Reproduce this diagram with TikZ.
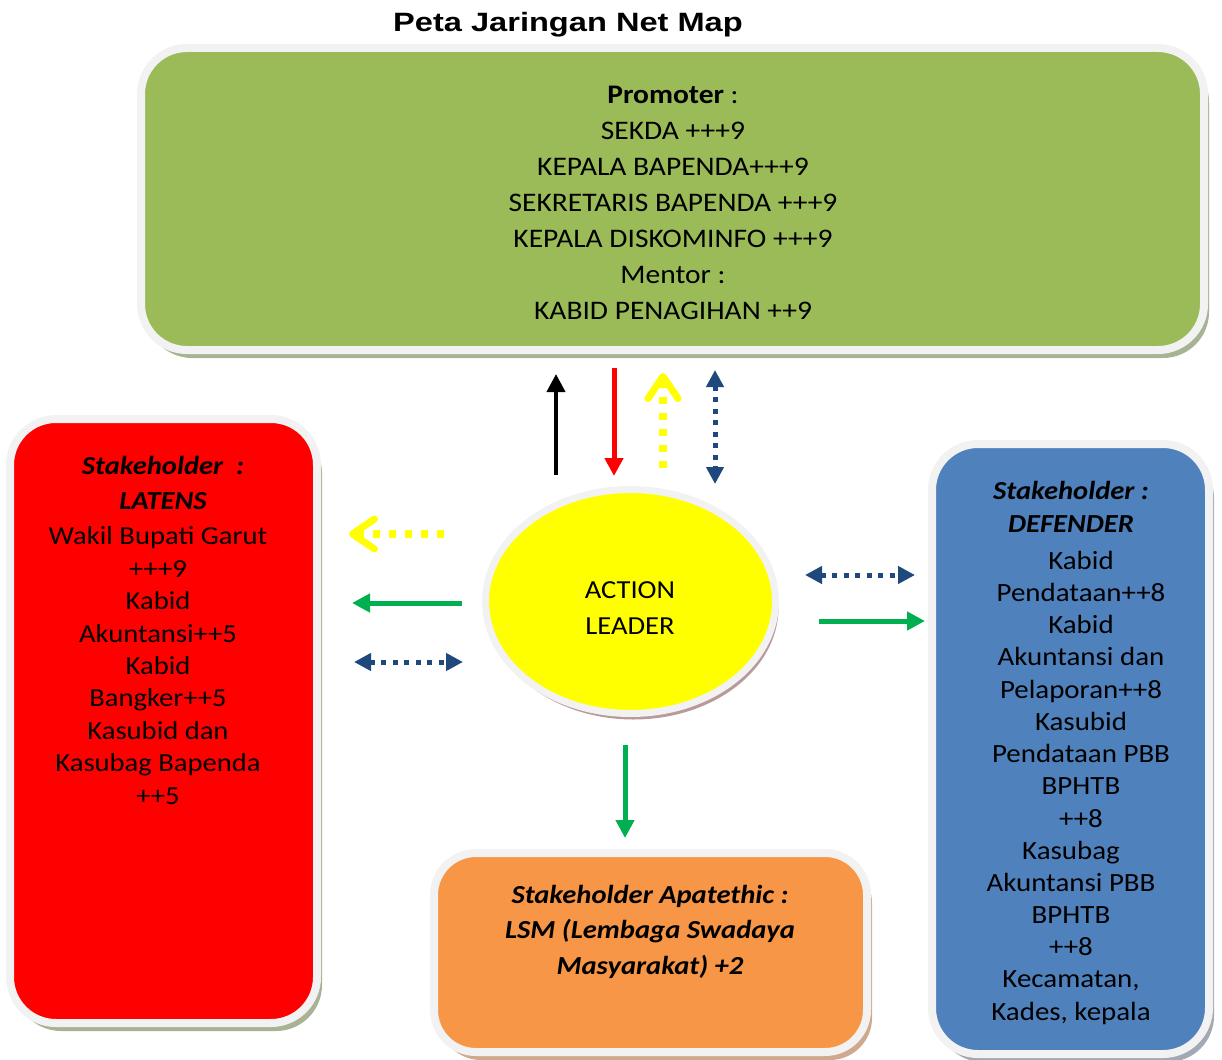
\documentclass[tikz,border=0pt]{standalone}
\usepackage{fontspec}
\setmainfont{Carlito}[FakeStretch=1.1]
\newfontfamily\titlefont{Liberation Sans}[FakeStretch=1.23]
\usetikzlibrary{arrows.meta,shapes.geometric,shadows}
\definecolor{boxgreen}{HTML}{9BBB59}
\definecolor{boxred}{HTML}{FF0000}
\definecolor{boxblue}{HTML}{4F81BD}
\definecolor{boxorange}{HTML}{F79646}
\definecolor{boxyellow}{HTML}{FFFF00}
\definecolor{bordercol}{HTML}{F2F2F2}
\definecolor{shgreen}{HTML}{A8B393}
\definecolor{shblue}{HTML}{A3A9B2}
\definecolor{shorange}{HTML}{CFA98E}
\definecolor{shell}{HTML}{B99A9A}
\definecolor{arrgreen}{HTML}{00B050}
\definecolor{arrblue}{HTML}{1F497D}
\definecolor{arryellow}{HTML}{FFFF00}
\begin{document}
\begin{tikzpicture}[x=1pt,y=-1pt,
  box/.style={rectangle, rounded corners=46pt, draw=bordercol, line width=8pt, inner sep=0pt,
     drop shadow={shadow xshift=5pt, shadow yshift=-8pt, fill=#1, opacity=1}},
  txt/.style={inner sep=0pt, align=center, anchor=base, font=\fontsize{26}{32}\selectfont},
  solidarr/.style={line width=#1, -{Triangle[length=18pt,width=18pt]}},
  bluedots/.style={draw=arrblue, line width=5pt, dash pattern=on 5pt off 6.5pt,
     {Triangle[length=17pt,width=17pt]}-{Triangle[length=17pt,width=17pt]}},
  yellowdots/.style={draw=arryellow, line width=7.5pt, dash pattern=on 7.5pt off 8.5pt,
     -{Straight Barb[length=22pt,width=30pt,line width=7pt,round]}}
]
\useasboundingbox (0,0) rectangle (1222,1059);

% title
\node[txt, font=\titlefont\bfseries\fontsize{26.5}{30}\selectfont] (title) at (568,32) {Peta Jaringan Net Map};

% boxes
\node[box=shgreen, fill=boxgreen, minimum width=1063pt, minimum height=302pt] (promoter) at (672.5,199) {};
\node[box=shgreen, fill=boxred, minimum width=307pt, minimum height=604pt] (latens) at (163.5,721) {};
\node[box=shblue, fill=boxblue, minimum width=277pt, minimum height=610pt] (defender) at (1070.5,749) {};
\node[box=shorange, fill=boxorange, minimum width=433pt, minimum height=199pt, rounded corners=42pt] (apathetic) at (650.5,952.5) {};
\node[ellipse, draw=bordercol, line width=7pt, fill=boxyellow, inner sep=0pt,
      minimum width=290pt, minimum height=224pt,
      drop shadow={shadow xshift=3pt, shadow yshift=-6pt, fill=shell, opacity=1}] (leader) at (630.5,601.5) {};

% texts (anchor = baseline of the last line)
\node[txt, font=\fontsize{26.8}{36}\selectfont] (promtxt) at (673,319)
  {\textbf{Promoter} :\\SEKDA +++9\\KEPALA BAPENDA+++9\\SEKRETARIS BAPENDA +++9\\KEPALA DISKOMINFO +++9\\Mentor :\\KABID PENAGIHAN ++9};

\node[txt, font=\fontsize{26}{35}\selectfont\bfseries\itshape] (lathead) at (163,509)
  {Stakeholder\ \ :\\LATENS};
\node[txt, font=\fontsize{26}{32.4}\selectfont] (lattxt) at (158,804)
  {Wakil Bupati Garut\\+++9\\Kabid\\Akuntansi++5\\Kabid\\Bangker++5\\Kasubid dan\\Kasubag Bapenda\\++5};

\node[txt, font=\fontsize{26}{33}\selectfont\bfseries\itshape] (defhead) at (1071,532)
  {Stakeholder :\\DEFENDER};
\node[txt, font=\fontsize{26.3}{32.25}\selectfont] (deftxta) at (1081,827)
  {Kabid\\Pendataan++8\\Kabid\\Akuntansi dan\\Pelaporan++8\\Kasubid\\Pendataan PBB\\BPHTB\\++8};
\node[txt, font=\fontsize{26.3}{32.2}\selectfont] (deftxtb) at (1071,1020)
  {Kasubag\\Akuntansi PBB\\BPHTB\\++8\\Kecamatan,\\Kades, kepala};

\node[txt, font=\fontsize{26}{35.5}\selectfont\bfseries\itshape] (apatxt) at (650,974)
  {Stakeholder Apatethic :\\LSM (Lembaga Swadaya\\Masyarakat) +2};

\node[txt, font=\fontsize{26}{36}\selectfont] (leadtxt) at (630,634) {ACTION\\LEADER};

% arrow end points
\coordinate (a1s) at (556,475); \coordinate (a1e) at (556,374);
\coordinate (a2s) at (614,368); \coordinate (a2e) at (614,476);
\coordinate (a3s) at (663,468); \coordinate (a3e) at (663,373);
\coordinate (a4s) at (715,370); \coordinate (a4e) at (715,484);
\coordinate (l1s) at (444,534); \coordinate (l1e) at (349,534);
\coordinate (l2s) at (462,603); \coordinate (l2e) at (352,603);
\coordinate (l3s) at (354,662); \coordinate (l3e) at (463,662);
\coordinate (r1s) at (805,575); \coordinate (r1e) at (915,575);
\coordinate (r2s) at (819,621); \coordinate (r2e) at (925,621);
\coordinate (d1s) at (625,745); \coordinate (d1e) at (625,838);

\draw[solidarr=4pt, draw=black] (a1s) -- (a1e);
\draw[solidarr=5pt, draw=boxred] (a2s) -- (a2e);
\draw[yellowdots] (a3s) -- (a3e);
\draw[bluedots] (a4s) -- (a4e);
\draw[yellowdots] (l1s) -- (l1e);
\draw[solidarr=5pt, draw=arrgreen] (l2s) -- (l2e);
\draw[bluedots] (l3s) -- (l3e);
\draw[bluedots] (r1s) -- (r1e);
\draw[solidarr=5pt, draw=arrgreen] (r2s) -- (r2e);
\draw[solidarr=5pt, draw=arrgreen] (d1s) -- (d1e);
\end{tikzpicture}
\end{document}
